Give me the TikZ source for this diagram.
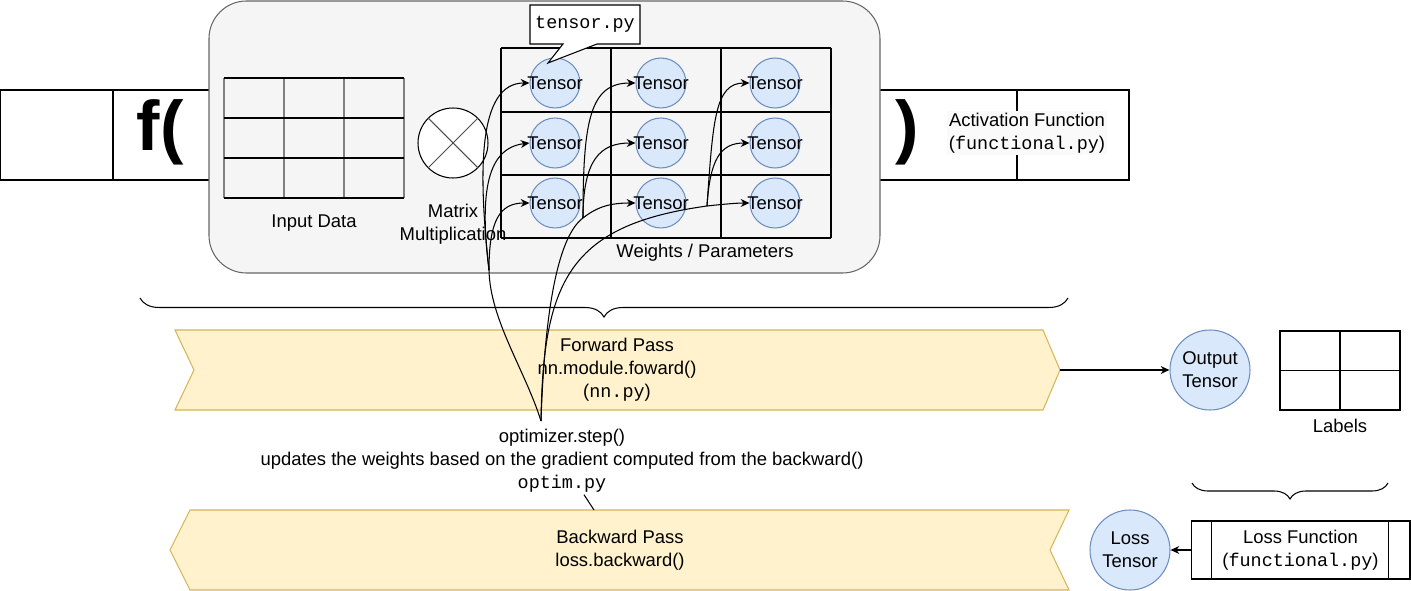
\documentclass[tikz,border=0pt]{standalone}
\usepackage{fontspec}
\setmainfont{Liberation Sans}
\setmonofont{Liberation Mono}
\usepackage{tikz}
\usetikzlibrary{positioning}
\usetikzlibrary{shapes,arrows,calc,arrows.meta,decorations.pathreplacing}

\definecolor{boxgray}{HTML}{F5F5F5}
\definecolor{boxline}{HTML}{666666}
\definecolor{tensorfill}{HTML}{DAE8FC}
\definecolor{tensorline}{HTML}{6C8EBF}
\definecolor{passfill}{HTML}{FFF2CC}
\definecolor{passline}{HTML}{D6B656}

\begin{document}
\begin{tikzpicture}[x=0.02cm, y=-0.02cm, line width=0.6pt,
    >={Stealth[length=5pt,width=4.5pt]},
    font=\fontsize{10.5}{13}\selectfont,
    tensor/.style={draw=tensorline, fill=tensorfill, circle, minimum size=1cm, inner sep=0pt, label=center:Tensor},
    bigtensor/.style={draw=tensorline, fill=tensorfill, circle, minimum size=1.6cm, inner sep=0pt, align=center},
    pass/.style={draw=passline, fill=passfill},
    txt/.style={align=center, inner sep=1pt},
    paren/.style={font=\fontsize{40}{40}\selectfont\bfseries, anchor=base},
    brace/.style={decorate, decoration={brace, mirror, amplitude=#1}}]
    \useasboundingbox (0,0) rectangle (1411,591);

    % Layer row f( ... )
    \draw (0.5,90) rectangle (1129,180);
    \draw (113,90) -- (113,180);
    \draw (1017,90) -- (1017,180);
    \node [paren] (fopen) at (160,151) {f(};
    \node [paren] (fclose) at (907,151) {)};
    \node [txt, fill=black!2] (act) at (1027,133) {Activation Function\\(\texttt{functional.py})};

    % Container
    \draw [draw=boxline, fill=boxgray, rounded corners=0.75cm] (209,1) rectangle (880,273);

    % Input data
    \foreach \x in {224,284,344,404}
        \draw [black!50] (\x,78) -- (\x,198);
    \foreach \y in {78,118,158,198}
        \draw (224,\y) -- (404,\y);
    \node (indata) at (314,223) {Input Data};

    % Matrix multiplication
    \node [draw, circle, fill=white, minimum size=1.4cm, inner sep=0pt] (mm) at (453,143) {};
    \draw [black!70] (mm.north west) -- (mm.south east);
    \draw [black!70] (mm.north east) -- (mm.south west);
    \node [txt] (mmlbl) at (453,224) {Matrix\\Multiplication};

    % Weights
    \foreach \x in {501,611,721,831}
        \draw (\x,48) -- (\x,238);
    \foreach \y in {48,112,175,238}
        \draw (501,\y) -- (831,\y);
    \foreach \r/\y in {1/83,2/143,3/203}
        \foreach \c/\x in {1/555,2/661,3/775}
            \node [tensor] (t\r\c) at (\x,\y) {};
    \node (weights) at (705,253) {Weights / Parameters};

    % tensor.py callout
    \draw [fill=white] (530,5) -- (640,5) -- (640,44) -- (597,44) -- (548,63) -- (563,44) -- (530,44) -- cycle;
    \node (tpy) at (585,24) {\texttt{tensor.py}};

    % Braces
    \draw [brace=0.38cm] (140,298) -- (1068,298);
    \draw [brace=0.32cm] (1192,483) -- (1388,483);

    % Forward pass
    \draw [pass] (175,330) -- (1043,330) -- (1060,370) -- (1043,410) -- (175,410) -- (194,370) -- cycle;
    \node [txt] (fwd) at (617,370) {Forward Pass\\nn.module.foward()\\(\texttt{nn.py})};
    \coordinate (fwdtip) at (1060,370);

    \node [bigtensor] (outt) at (1210,370) {Output\\Tensor};
    \draw [->] (fwdtip) -- (outt);

    \node [draw, minimum width=2.4cm, minimum height=1.58cm] (labels) at (1340,370.5) {};
    \draw (labels.north) -- (labels.south);
    \draw (labels.west) -- (labels.east);
    \node [below=1pt of labels] (lbltxt) {Labels};

    % Backward pass
    \draw [pass] (190,510) -- (1069,510) -- (1050,550) -- (1069,590) -- (190,590) -- (170,550) -- cycle;
    \node [txt] (bwd) at (620,550) {Backward Pass\\loss.backward()};

    \node [draw, txt, minimum width=4.38cm, minimum height=1.16cm] (lossf) at (1300.5,550) {Loss Function\\(\texttt{functional.py})};
    \draw ($(lossf.north west)+(21,0)$) -- ($(lossf.south west)+(21,0)$);
    \draw ($(lossf.north east)+(-22,0)$) -- ($(lossf.south east)+(-22,0)$);
    \node [bigtensor] (losst) at (1130,550) {Loss\\Tensor};
    \draw [->] (lossf) -- (losst);

    % Optimizer
    \node [txt] (opt) at (562,461) {optimizer.step()\\updates the weights based on the gradient computed from the backward()\\\texttt{optim.py}};
    \coordinate (bwdtop) at (594,510);
    \draw (bwdtop) -- (opt);

    \coordinate (hub) at (541,421);
    \coordinate (b1) at (489,270);
    \coordinate (b2) at (583,218);
    \coordinate (b3) at (707,206);
    \draw [->] (hub) .. controls (525,370) and (490,320) .. (b1) .. controls (489,220) and (500,203) .. (t31.west);
    \draw [->] (b1) .. controls (478,170) and (478,83) .. (t11.west);
    \draw [->] (b1) .. controls (479,190) and (488,148) .. (t21.west);
    \draw [->] (hub) .. controls (545,300) and (560,235) .. (b2) .. controls (598,206) and (612,203) .. (t32.west);
    \draw [->] (b2) .. controls (583,120) and (590,83) .. (t12.west);
    \draw [->] (b2) .. controls (583,160) and (600,143) .. (t22.west);
    \draw [->] (hub) .. controls (543,280) and (570,225) .. (b3) .. controls (725,204) and (738,203) .. (t33.west);
    \draw [->] (b3) .. controls (713,120) and (715,83) .. (t13.west);
    \draw [->] (b3) .. controls (710,160) and (720,143) .. (t23.west);
\end{tikzpicture}
\end{document}
